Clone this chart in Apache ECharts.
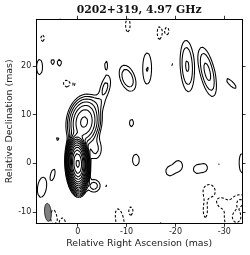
<!DOCTYPE html>
<html><head><meta charset="utf-8">
<script src="https://cdn.jsdelivr.net/npm/echarts@6/dist/echarts.min.js"></script>
<style>html,body{margin:0;padding:0;background:#fff}#c{width:250px;height:255px}</style>
</head><body><div id="c"></div>
<script>
// ---- text ----
const chartTitle = '0202+319, 4.97 GHz';
const xName = 'Relative Right Ascension (mas)';
const yName = 'Relative Declination (mas)';
// ---- axes ----
const xTicks = [0, -10, -20, -30];
const yTicks = [-10, 0, 10, 20];
const xRange = [-33.6, 8.47];   // RA (axis inverted: east left)
const yRange = [-12.3, 29.6];   // Dec
// ---- contour levels (multiples of lowest contour) ----
const contourLevels = [-2, -1, 1, 2, 4, 8, 16, 32, 64, 128, 256, 512, 1024, 2048, 4096, 8192, 16384];
// ---- restoring beam: [RA, Dec, FWHM major, FWHM minor, PA deg] ----
const beam = [6.1, -10.05, 3.7, 1.35, 5];
// ---- brightness components: [RA, Dec, peak, sigma major, sigma minor, PA deg] ----
const coreJet = [
  [0.0, 0.0, 19000, 1.58, 0.60, 2],
  [-1.3, 8.5, 75, 1.95, 1.25, -8],
  [-3.9, 12.3, 1.6, 1.1, 1.1, 0],
  [-5.6, 15.5, 2.5, 1.8, 0.7, -15],
  [-3.6, 3.0, 2.5, 1.5, 0.9, 0],
  [-3.3, -4.6, 2.8, 0.9, 0.9, 90],
  [-5.8, -4.6, 1.12, 0.42, 0.3, 0]
];
const positiveSpots = [
  [7.8, 19.8, 1.3, 2.2, 0.83, 0],
  [5.2, 20.9, 1.1, 1.0, 0.5, 0],
  [3.7, 20.7, 1.2, 1.1, 0.6, 0],
  [3.6, 29.8, 1.1, 0.5, 0.4, 0],
  [-5.8, 20.3, 1.2, 1.3, 0.42, 0],
  [-10.2, 17.5, 3.6, 1.75, 0.94, 20],
  [-14.2, 19.5, 2.06, 2.68, 0.75, 0],
  [-19.2, 20.4, 1.05, 1.1, 0.65, 0],
  [-22.4, 20.0, 4.3, 3.1, 0.84, 3],
  [-26.5, 18.8, 4.95, 2.9, 0.84, 13],
  [-31.4, 16.4, 1.3, 1.9, 0.6, 45],
  [-11.0, 8.3, 1.2, 1.33, 0.67, 0],
  [4.1, 5.1, 1.1, 0.8, 0.57, 0],
  [-11.9, 0.7, 1.3, 1.67, 0.94, 0],
  [-18.8, -1.6, 1.5, 1.0, 0.85, 0],
  [-20.6, -0.5, 1.6, 1.1, 0.85, 0],
  [-24.3, -1.2, 1.4, 0.95, 0.75, 0],
  [-25.9, -0.9, 1.4, 0.95, 0.75, 0],
  [-28.9, -0.15, 1.03, 0.5, 0.5, 0],
  [-33.6, 0.1, 1.3, 2.8, 0.8, 0],
  [5.1, -2.3, 1.9, 1.05, 0.36, -12],
  [7.3, -4.9, 1.9, 1.85, 0.8, -8],
  [-16.9, -12.4, 1.1, 0.6, 0.6, 0]
];
const negativeSpots = [
  [7.2, 25.7, -1.3, 1.05, 0.5, 0],
  [2.25, 16.4, -1.95, 0.6, 0.58, 0],
  [0.75, 16.3, -1.3, 0.48, 0.28, 0],
  [-10.25, 28.4, -1.3, 1.95, 0.63, 0],
  [-16.7, 26.8, -1.3, 1.8, 0.6, 0],
  [-18.3, 27.2, -1.2, 1.2, 0.55, 0],
  [5.0, -11.0, -1.3, 2.0, 0.75, 0],
  [3.0, -12.2, -1.2, 1.5, 0.75, 0],
  [-8.6, -11.8, -1.5, 2.8, 0.9, 10],
  [-10.9, -9.75, -1.2, 1.4, 0.65, 0],
  [-26.9, -5.6, -1.6, 1.3, 1.2, 0],
  [-26.1, -9.6, -1.4, 1.8, 0.5, 0],
  [-29.3, -8.0, -1.2, 0.9, 0.9, 0],
  [-32.5, -11.0, -2.2, 2.6, 2.0, 0],
  [-33.5, -7.6, -1.3, 1.0, 1.2, 0]
];

// ---- brightness grid (data space) ----
const STEP = 0.08;
const gx0 = xRange[0] - 0.6, gy0 = yRange[0] - 0.6;
const NX = Math.ceil((xRange[1] + 0.6 - gx0) / STEP) + 1;
const NY = Math.ceil((yRange[1] + 0.6 - gy0) / STEP) + 1;
const grid = new Float64Array(NX * NY);
[coreJet, positiveSpots, negativeSpots].forEach(list => list.forEach(c => {
  const [ra, dec, peak, smaj, smin, pa] = c;
  const t = pa * Math.PI / 180, st = Math.sin(t), ct = Math.cos(t);
  const R = 5.5 * Math.max(smaj, smin);
  const i0 = Math.max(0, Math.floor((ra - R - gx0) / STEP)), i1 = Math.min(NX - 1, Math.ceil((ra + R - gx0) / STEP));
  const j0 = Math.max(0, Math.floor((dec - R - gy0) / STEP)), j1 = Math.min(NY - 1, Math.ceil((dec + R - gy0) / STEP));
  for (let j = j0; j <= j1; j++) {
    const dy = gy0 + j * STEP - dec;
    for (let i = i0; i <= i1; i++) {
      const dx = gx0 + i * STEP - ra;
      const a = dx * st + dy * ct, b = dx * ct - dy * st;
      grid[j * NX + i] += peak * Math.exp(-0.5 * (a * a / (smaj * smaj) + b * b / (smin * smin)));
    }
  }
}));

// ---- marching squares -> polylines ----
function contourLines(L) {
  const adj = new Map();
  const link = (a, b) => {
    if (!adj.has(a)) adj.set(a, []);
    if (!adj.has(b)) adj.set(b, []);
    adj.get(a).push(b); adj.get(b).push(a);
  };
  for (let j = 0; j < NY - 1; j++) {
    for (let i = 0; i < NX - 1; i++) {
      const k = j * NX + i;
      const v0 = grid[k], v1 = grid[k + 1], v2 = grid[k + NX + 1], v3 = grid[k + NX];
      const c = (v0 > L ? 1 : 0) | (v1 > L ? 2 : 0) | (v2 > L ? 4 : 0) | (v3 > L ? 8 : 0);
      if (c === 0 || c === 15) continue;
      const e0 = 2 * k, e1 = 2 * (k + 1) + 1, e2 = 2 * (k + NX), e3 = 2 * k + 1;
      const mid = (v0 + v1 + v2 + v3) / 4 > L;
      switch (c) {
        case 1: case 14: link(e0, e3); break;
        case 2: case 13: link(e0, e1); break;
        case 3: case 12: link(e3, e1); break;
        case 4: case 11: link(e1, e2); break;
        case 6: case 9: link(e0, e2); break;
        case 7: case 8: link(e3, e2); break;
        case 5: if (mid) { link(e0, e1); link(e2, e3); } else { link(e3, e0); link(e1, e2); } break;
        case 10: if (mid) { link(e3, e0); link(e1, e2); } else { link(e0, e1); link(e2, e3); } break;
      }
    }
  }
  const pt = id => {
    let k, i, j, va, vb, t;
    if (id % 2 === 0) {
      k = id / 2; i = k % NX; j = (k - i) / NX; va = grid[k]; vb = grid[k + 1]; t = (L - va) / (vb - va);
      return [gx0 + (i + t) * STEP, gy0 + j * STEP];
    }
    k = (id - 1) / 2; i = k % NX; j = (k - i) / NX; va = grid[k]; vb = grid[k + NX]; t = (L - va) / (vb - va);
    return [gx0 + i * STEP, gy0 + (j + t) * STEP];
  };
  const seen = new Set();
  const lines = [];
  const walk = start => {
    const pts = [pt(start)]; seen.add(start); let cur = start;
    while (true) {
      const ns = adj.get(cur); let nxt = -1;
      for (const n of ns) if (!seen.has(n)) { nxt = n; break; }
      if (nxt < 0) { if (pts.length > 2 && ns.includes(start)) pts.push(pt(start)); break; }
      seen.add(nxt); pts.push(pt(nxt)); cur = nxt;
    }
    return pts;
  };
  for (const [id, ns] of adj) if (ns.length === 1 && !seen.has(id)) lines.push(walk(id));
  for (const [id] of adj) if (!seen.has(id)) lines.push(walk(id));
  return lines;
}

const series = [];
contourLevels.forEach(L => {
  contourLines(L).forEach(pts => {
    series.push({
      type: 'line', data: pts, showSymbol: false, symbol: 'none', silent: true, animation: false,
      clip: true, z: 2,
      lineStyle: { color: '#000', width: 1.05, type: L < 0 ? [2.6, 1.8] : 'solid' }
    });
  });
});

// beam ellipse
const beamPts = [];
{
  const [bra, bdec, bmaj, bmin, bpa] = beam;
  const t = bpa * Math.PI / 180, a = bmaj / 2, b = bmin / 2;
  for (let n = 0; n < 60; n++) {
    const ang = n / 60 * 2 * Math.PI;
    const al = a * Math.cos(ang), pe = b * Math.sin(ang);
    beamPts.push([bra + al * Math.sin(t) + pe * Math.cos(t), bdec + al * Math.cos(t) - pe * Math.sin(t)]);
  }
}
series.push({
  type: 'custom', data: [[beam[0], beam[1]]], silent: true, animation: false, z: 5,
  renderItem: (params, api) => ({
    type: 'polygon',
    shape: { points: beamPts.map(p => api.coord(p)) },
    style: { fill: '#808080', stroke: '#000', lineWidth: 0.8 }
  })
});

const tickFont = { fontSize: 8, color: '#222', fontFamily: 'DejaVu Sans' };
const axLine = { show: true, onZero: false, lineStyle: { color: '#000', width: 1 } };
const mkX = (pos, labels) => ({
  type: 'value', position: pos, inverse: true, min: xRange[0], max: xRange[1],
  axisLine: axLine, splitLine: { show: false },
  axisTick: { show: true, inside: false, length: 3.5, customValues: xTicks, lineStyle: { color: '#000', width: 0.8 } },
  axisLabel: Object.assign({ show: labels, margin: 5, customValues: xTicks }, tickFont)
});
const mkY = (pos, labels) => ({
  type: 'value', position: pos, min: yRange[0], max: yRange[1],
  axisLine: axLine, splitLine: { show: false },
  axisTick: { show: true, inside: false, length: 3.5, customValues: yTicks, lineStyle: { color: '#000', width: 0.8 } },
  axisLabel: Object.assign({ show: labels, margin: 5, customValues: yTicks }, tickFont)
});

const chart = echarts.init(document.getElementById('c'), null, { renderer: 'canvas' });
chart.setOption({
  backgroundColor: '#fff',
  animation: false,
  grid: { left: 36.3, top: 19.3, width: 205.7, height: 204, containLabel: false },
  xAxis: [mkX('bottom', true), mkX('top', false)],
  yAxis: [mkY('left', true), mkY('right', false)],
  graphic: [
    { type: 'text', x: 139.2, y: 10.5, style: { text: chartTitle, align: 'center', verticalAlign: 'middle', textAlign: 'center', textVerticalAlign: 'middle', fontSize: 10.8, fontWeight: 'bold', fontFamily: 'DejaVu Serif', fill: '#111' } },
    { type: 'text', x: 139.2, y: 244, style: { text: xName, align: 'center', verticalAlign: 'middle', textAlign: 'center', textVerticalAlign: 'middle', fontSize: 9.4, fontFamily: 'DejaVu Sans', fill: '#222' } },
    { type: 'text', x: 9.2, y: 121.3, rotation: Math.PI / 2, style: { text: yName, align: 'center', verticalAlign: 'middle', textAlign: 'center', textVerticalAlign: 'middle', fontSize: 9.4, fontFamily: 'DejaVu Sans', fill: '#222' } }
  ],
  series: series
});
</script>
</body></html>
